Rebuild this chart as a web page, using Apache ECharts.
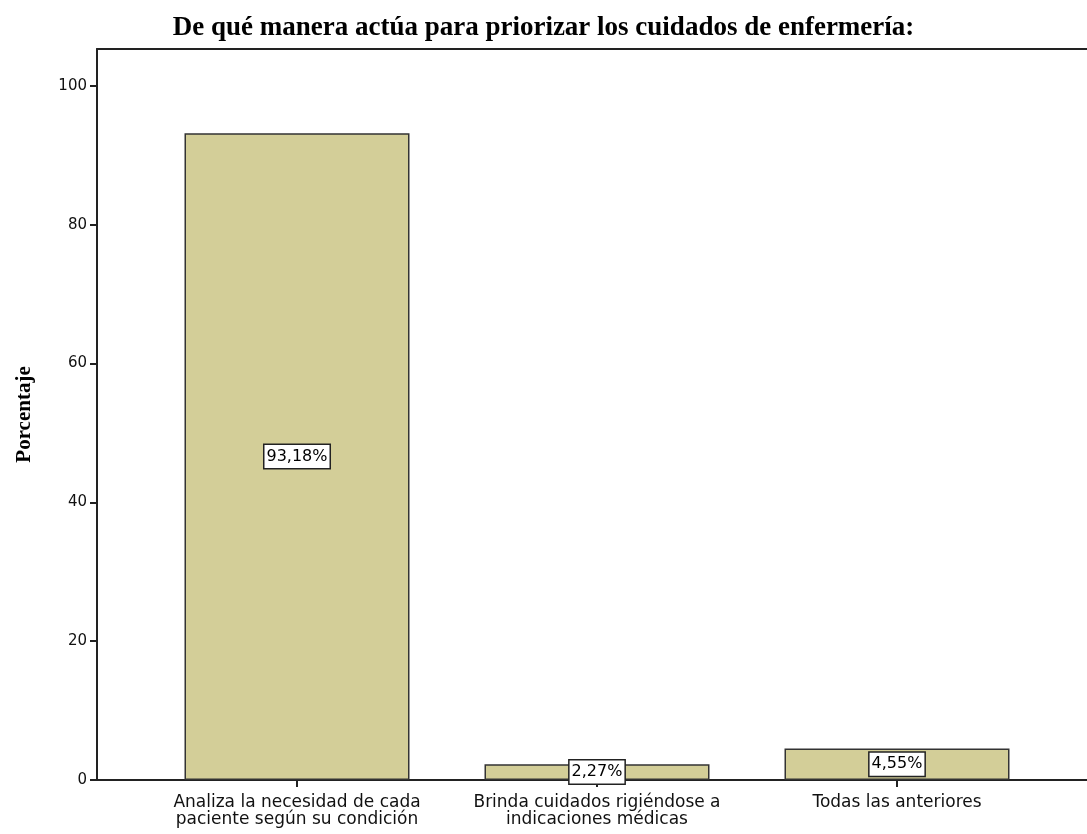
<!DOCTYPE html>
<html>
<head>
<meta charset="utf-8">
<script src="https://cdn.jsdelivr.net/npm/echarts@6/dist/echarts.min.js"></script>
<style>
html,body{margin:0;padding:0;background:#fff;}
#chart{width:1087px;height:834px;}
</style>
</head>
<body>
<div id="chart"></div>
<script>
const chartTitle = 'De qué manera actúa para priorizar los cuidados de enfermería:';
const yAxisName = 'Porcentaje';
const categories = [
  'Analiza la necesidad de cada\npaciente según su condición',
  'Brinda cuidados rigiéndose a\nindicaciones médicas',
  'Todas las anteriores'
];
const categoryPositions = [1, 2, 3];
const percentages = [93.18, 2.27, 4.55];
const percentLabels = ['93,18%', '2,27%', '4,55%'];
const yTicks = [0, 20, 40, 60, 80, 100];

const xMin = 1 / 3;
const xMax = xMin + 990 / 300;

const chart = echarts.init(document.getElementById('chart'), null, {renderer: 'canvas'});
chart.setOption({
  backgroundColor: '#ffffff',
  animation: false,
  title: {
    text: chartTitle,
    left: 'center',
    top: 10,
    textStyle: {fontFamily: 'Liberation Serif', fontWeight: 'bold', fontSize: 27, color: '#000'}
  },
  grid: {left: 97, right: 0, top: 49, bottom: 54},
  xAxis: [{
    type: 'value',
    min: xMin,
    max: xMax,
    axisLine: {show: true, onZero: false, lineStyle: {color: '#222', width: 2}},
    axisTick: {show: true, customValues: categoryPositions, length: 7, lineStyle: {color: '#222', width: 2}},
    axisLabel: {
      show: true,
      customValues: categoryPositions,
      margin: 14,
      formatter: function (v) {
        const i = categoryPositions.indexOf(Math.round(v));
        return i >= 0 ? categories[i] : '';
      },
      fontFamily: 'DejaVu Sans', fontSize: 17, color: '#111', lineHeight: 17
    },
    splitLine: {show: false}
  }, {
    type: 'value',
    position: 'top',
    min: xMin,
    max: xMax,
    axisLine: {show: true, onZero: false, lineStyle: {color: '#222', width: 2}},
    axisTick: {show: false},
    axisLabel: {show: false},
    splitLine: {show: false}
  }],
  yAxis: {
    type: 'value',
    min: 0,
    max: 105.3,
    name: yAxisName,
    nameLocation: 'middle',
    nameGap: 62,
    nameRotate: 90,
    nameTextStyle: {fontFamily: 'Liberation Serif', fontWeight: 'bold', fontSize: 21, color: '#000'},
    axisLine: {show: true, lineStyle: {color: '#222', width: 2}},
    axisTick: {show: true, customValues: yTicks, length: 7, lineStyle: {color: '#222', width: 2}},
    axisLabel: {show: true, customValues: yTicks, margin: 10, fontFamily: 'DejaVu Sans', fontSize: 15, color: '#111'},
    splitLine: {show: false}
  },
  series: [{
    type: 'bar',
    xAxisIndex: 0,
    barWidth: 225,
    data: categoryPositions.map((p, i) => [p, percentages[i]]),
    itemStyle: {color: '#D3CE98', borderColor: '#333', borderWidth: 1.5},
    label: {
      show: true,
      position: 'inside',
      formatter: function (p) { return percentLabels[p.dataIndex]; },
      fontFamily: 'DejaVu Sans', fontSize: 16, color: '#000',
      backgroundColor: '#fff', borderColor: '#222', borderWidth: 1.5,
      padding: [4, 2, 3, 2]
    }
  }]
});
</script>
</body>
</html>
